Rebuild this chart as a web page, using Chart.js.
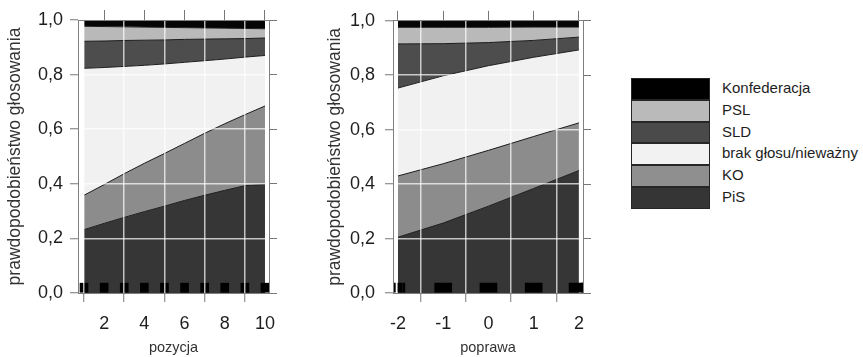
<!DOCTYPE html>
<html><head><meta charset="utf-8">
<script src="https://cdn.jsdelivr.net/npm/chart.js@4.4.0/dist/chart.umd.min.js"></script>
<style>
html,body{margin:0;padding:0;background:#fff;width:863px;height:357px;overflow:hidden;font-family:"Liberation Sans",Arial,sans-serif;}
#c1{position:absolute;left:0;top:0;}
#c2{position:absolute;left:300px;top:0;}
#legend{position:absolute;left:631px;top:78px;}
.row{position:relative;height:21.8px;width:220px;}
.sw{position:absolute;left:0;top:0;width:79px;height:21.8px;box-sizing:border-box;border:1px solid #262626;}
.lab{position:absolute;left:91px;top:-1px;line-height:21.8px;font-size:15px;color:#1e1e1e;white-space:nowrap;}
</style></head><body>
<canvas id="c1" width="290" height="357"></canvas>
<canvas id="c2" width="310" height="357"></canvas>
<div id="legend"></div>
<script>
// ---------- data ----------
const parties = ['PiS', 'KO', 'brak głosu/nieważny', 'SLD', 'PSL', 'Konfederacja'];

// panel 1: pozycja
const pozycja      = [1, 2, 3, 4, 5, 6, 7, 8, 9, 10];
const pozycjaPiS   = [0.232, 0.255, 0.277, 0.298, 0.318, 0.339, 0.358, 0.376, 0.393, 0.398];
const pozycjaKO    = [0.126, 0.142, 0.160, 0.177, 0.193, 0.209, 0.227, 0.244, 0.260, 0.287];
const pozycjaBrak  = [0.465, 0.429, 0.393, 0.359, 0.328, 0.297, 0.266, 0.237, 0.211, 0.185];
const pozycjaSLD   = [0.099, 0.097, 0.095, 0.092, 0.088, 0.084, 0.079, 0.074, 0.068, 0.064];
const pozycjaPSL   = [0.055, 0.053, 0.050, 0.048, 0.046, 0.043, 0.041, 0.039, 0.037, 0.034];
const pozycjaKonf  = [0.023, 0.024, 0.025, 0.026, 0.027, 0.028, 0.029, 0.030, 0.031, 0.032];
const pozycjaRugBlocks = [1, 2, 3, 4, 5, 6, 7, 8, 9, 10];
const pozycjaRugLines  = [];
const pozycjaTicks = [2, 4, 6, 8, 10];

// panel 2: poprawa
const poprawa      = [-2, -1, 0, 1, 2];
const poprawaPiS   = [0.205, 0.257, 0.319, 0.384, 0.450];
const poprawaKO    = [0.225, 0.218, 0.205, 0.191, 0.175];
const poprawaBrak  = [0.323, 0.323, 0.311, 0.291, 0.268];
const poprawaSLD   = [0.162, 0.118, 0.085, 0.062, 0.047];
const poprawaPSL   = [0.061, 0.060, 0.056, 0.049, 0.037];
const poprawaKonf  = [0.024, 0.024, 0.024, 0.023, 0.023];
const poprawaRugBlocks = [-1, 0, 1, 1.97];
const poprawaRugLines  = [-2.08, -1.98, -1.93, -1.87, 2.07];
const poprawaTicks = [-2, -1, 0, 1, 2];

const yTicks = [0, 0.2, 0.4, 0.6, 0.8, 1.0];

// ---------- styles ----------
const fillColors = ['#363636', '#8c8c8c', '#f1f1f1', '#4d4d4d', '#b9b9b9', '#050505'];
const legendColors = ['#353535', '#8f8f8f', '#f2f2f2', '#4a4a4a', '#bababa', '#000000'];
const RUG_H = 0.036;
const FONT = '"Liberation Sans", Arial, Helvetica, sans-serif';
Chart.defaults.font.family = FONT;

function buildDatasets(xs, series, rugBlocks, rugLines, blockW) {
  let cum = xs.map(() => 0);
  const ds = series.map((vals, i) => {
    cum = cum.map((c, j) => c + vals[j]);
    return {
      type: 'line', label: parties[i],
      data: xs.map((x, j) => ({ x: x, y: Math.min(1, cum[j]) })),
      fill: i === 0 ? 'origin' : '-1',
      backgroundColor: fillColors[i],
      borderColor: '#1c1c1c', borderWidth: 1,
      pointRadius: 0, tension: 0, order: 1
    };
  });
  ds.push({
    type: 'bar', label: 'rug', grouped: false, order: 0,
    data: rugBlocks.map(x => ({ x: x, y: RUG_H })),
    backgroundColor: '#000', borderWidth: 0, barThickness: blockW
  });
  ds.push({
    type: 'bar', label: 'rug2', grouped: false, order: 0,
    data: rugLines.map(x => ({ x: x, y: RUG_H })),
    backgroundColor: '#000', borderWidth: 0, barThickness: 2
  });
  return ds;
}

const GRID = 'rgba(255,255,255,0.7)';
const TICKC = '#777';
const BORDER = '#7f7f7f';

function makeOptions(o) {
  const setX = s => { s.ticks = o.xTicks.map(v => ({ value: v })); };
  const setY = s => { s.ticks = yTicks.map(v => ({ value: v })); };
  return {
    responsive: false, animation: false, devicePixelRatio: 1, events: [],
    plugins: { legend: { display: false }, tooltip: { enabled: false } },
    layout: { padding: 0 },
    scales: {
      x: {
        type: 'linear', position: 'bottom', min: o.xmin, max: o.xmax, offset: false,
        afterBuildTicks: setX, afterFit: s => { s.height = 64; },
        grid: { z: 1, color: GRID, lineWidth: 1.5, tickColor: TICKC, tickLength: 9, tickWidth: 1 },
        border: { z: 2, color: BORDER, width: 1 },
        ticks: { padding: 11, color: '#1e1e1e', font: { size: 18 }, autoSkip: false, maxRotation: 0,
                 callback: v => String(v) },
        title: { display: true, text: o.xTitle, color: '#333', font: { size: 14.5 }, padding: { top: 0, bottom: 0 } }
      },
      x2: {
        type: 'linear', position: 'top', min: o.xmin, max: o.xmax, offset: false,
        afterBuildTicks: setX, afterFit: s => { s.height = 20; },
        grid: { z: 1, drawOnChartArea: false, tickColor: TICKC, tickLength: 10, tickWidth: 1 },
        border: { z: 2, color: BORDER, width: 1 },
        ticks: { display: false }
      },
      y: {
        type: 'linear', position: 'left', min: 0, max: 1,
        afterBuildTicks: setY, afterFit: s => { s.width = o.yWidth; },
        grid: { z: 1, color: c => (c.tick && (c.tick.value === 0 || c.tick.value === 1)) ? 'rgba(0,0,0,0)' : GRID,
                lineWidth: 1.5, tickColor: TICKC, tickLength: 8, tickWidth: 1 },
        border: { z: 2, color: BORDER, width: 1 },
        ticks: { padding: o.yPad, color: '#1e1e1e', font: { size: 18 }, autoSkip: false,
                 callback: v => Number(v).toFixed(1).replace('.', ',') },
        title: { display: true, text: 'prawdopodobieństwo głosowania', color: '#333', font: { size: 17.5 },
                 padding: { top: o.yTitlePad, bottom: 0 } }
      },
      y2: {
        type: 'linear', position: 'right', min: 0, max: 1,
        afterBuildTicks: setY, afterFit: s => { s.width = o.y2Width; },
        grid: { z: 1, drawOnChartArea: false, tickColor: TICKC, tickLength: 8, tickWidth: 1 },
        border: { z: 2, color: BORDER, width: 1 },
        ticks: { display: false }
      }
    }
  };
}

new Chart(document.getElementById('c1'), {
  type: 'line',
  data: { datasets: buildDatasets(pozycja,
    [pozycjaPiS, pozycjaKO, pozycjaBrak, pozycjaSLD, pozycjaPSL, pozycjaKonf],
    pozycjaRugBlocks, pozycjaRugLines, 8) },
  options: makeOptions({ xmin: 0.7, xmax: 10.2, xTicks: pozycjaTicks, xTitle: 'pozycja',
                         yWidth: 78, yPad: 7, yTitlePad: 4.5, y2Width: 21 })
});

new Chart(document.getElementById('c2'), {
  type: 'line',
  data: { datasets: buildDatasets(poprawa,
    [poprawaPiS, poprawaKO, poprawaBrak, poprawaSLD, poprawaPSL, poprawaKonf],
    poprawaRugBlocks, poprawaRugLines, 17) },
  options: makeOptions({ xmin: -2.11, xmax: 2.09, xTicks: poprawaTicks, xTitle: 'poprawa',
                         yWidth: 93, yPad: 10, yTitlePad: 24.5, y2Width: 27 })
});

// legend (top to bottom: reverse stacking order)
const leg = document.getElementById('legend');
for (let i = parties.length - 1; i >= 0; i--) {
  const row = document.createElement('div');
  row.className = 'row';
  const sw = document.createElement('div');
  sw.className = 'sw';
  sw.style.background = legendColors[i];
  const lab = document.createElement('div');
  lab.className = 'lab';
  lab.textContent = parties[i];
  row.appendChild(sw); row.appendChild(lab);
  leg.appendChild(row);
}
</script>
</body></html>
